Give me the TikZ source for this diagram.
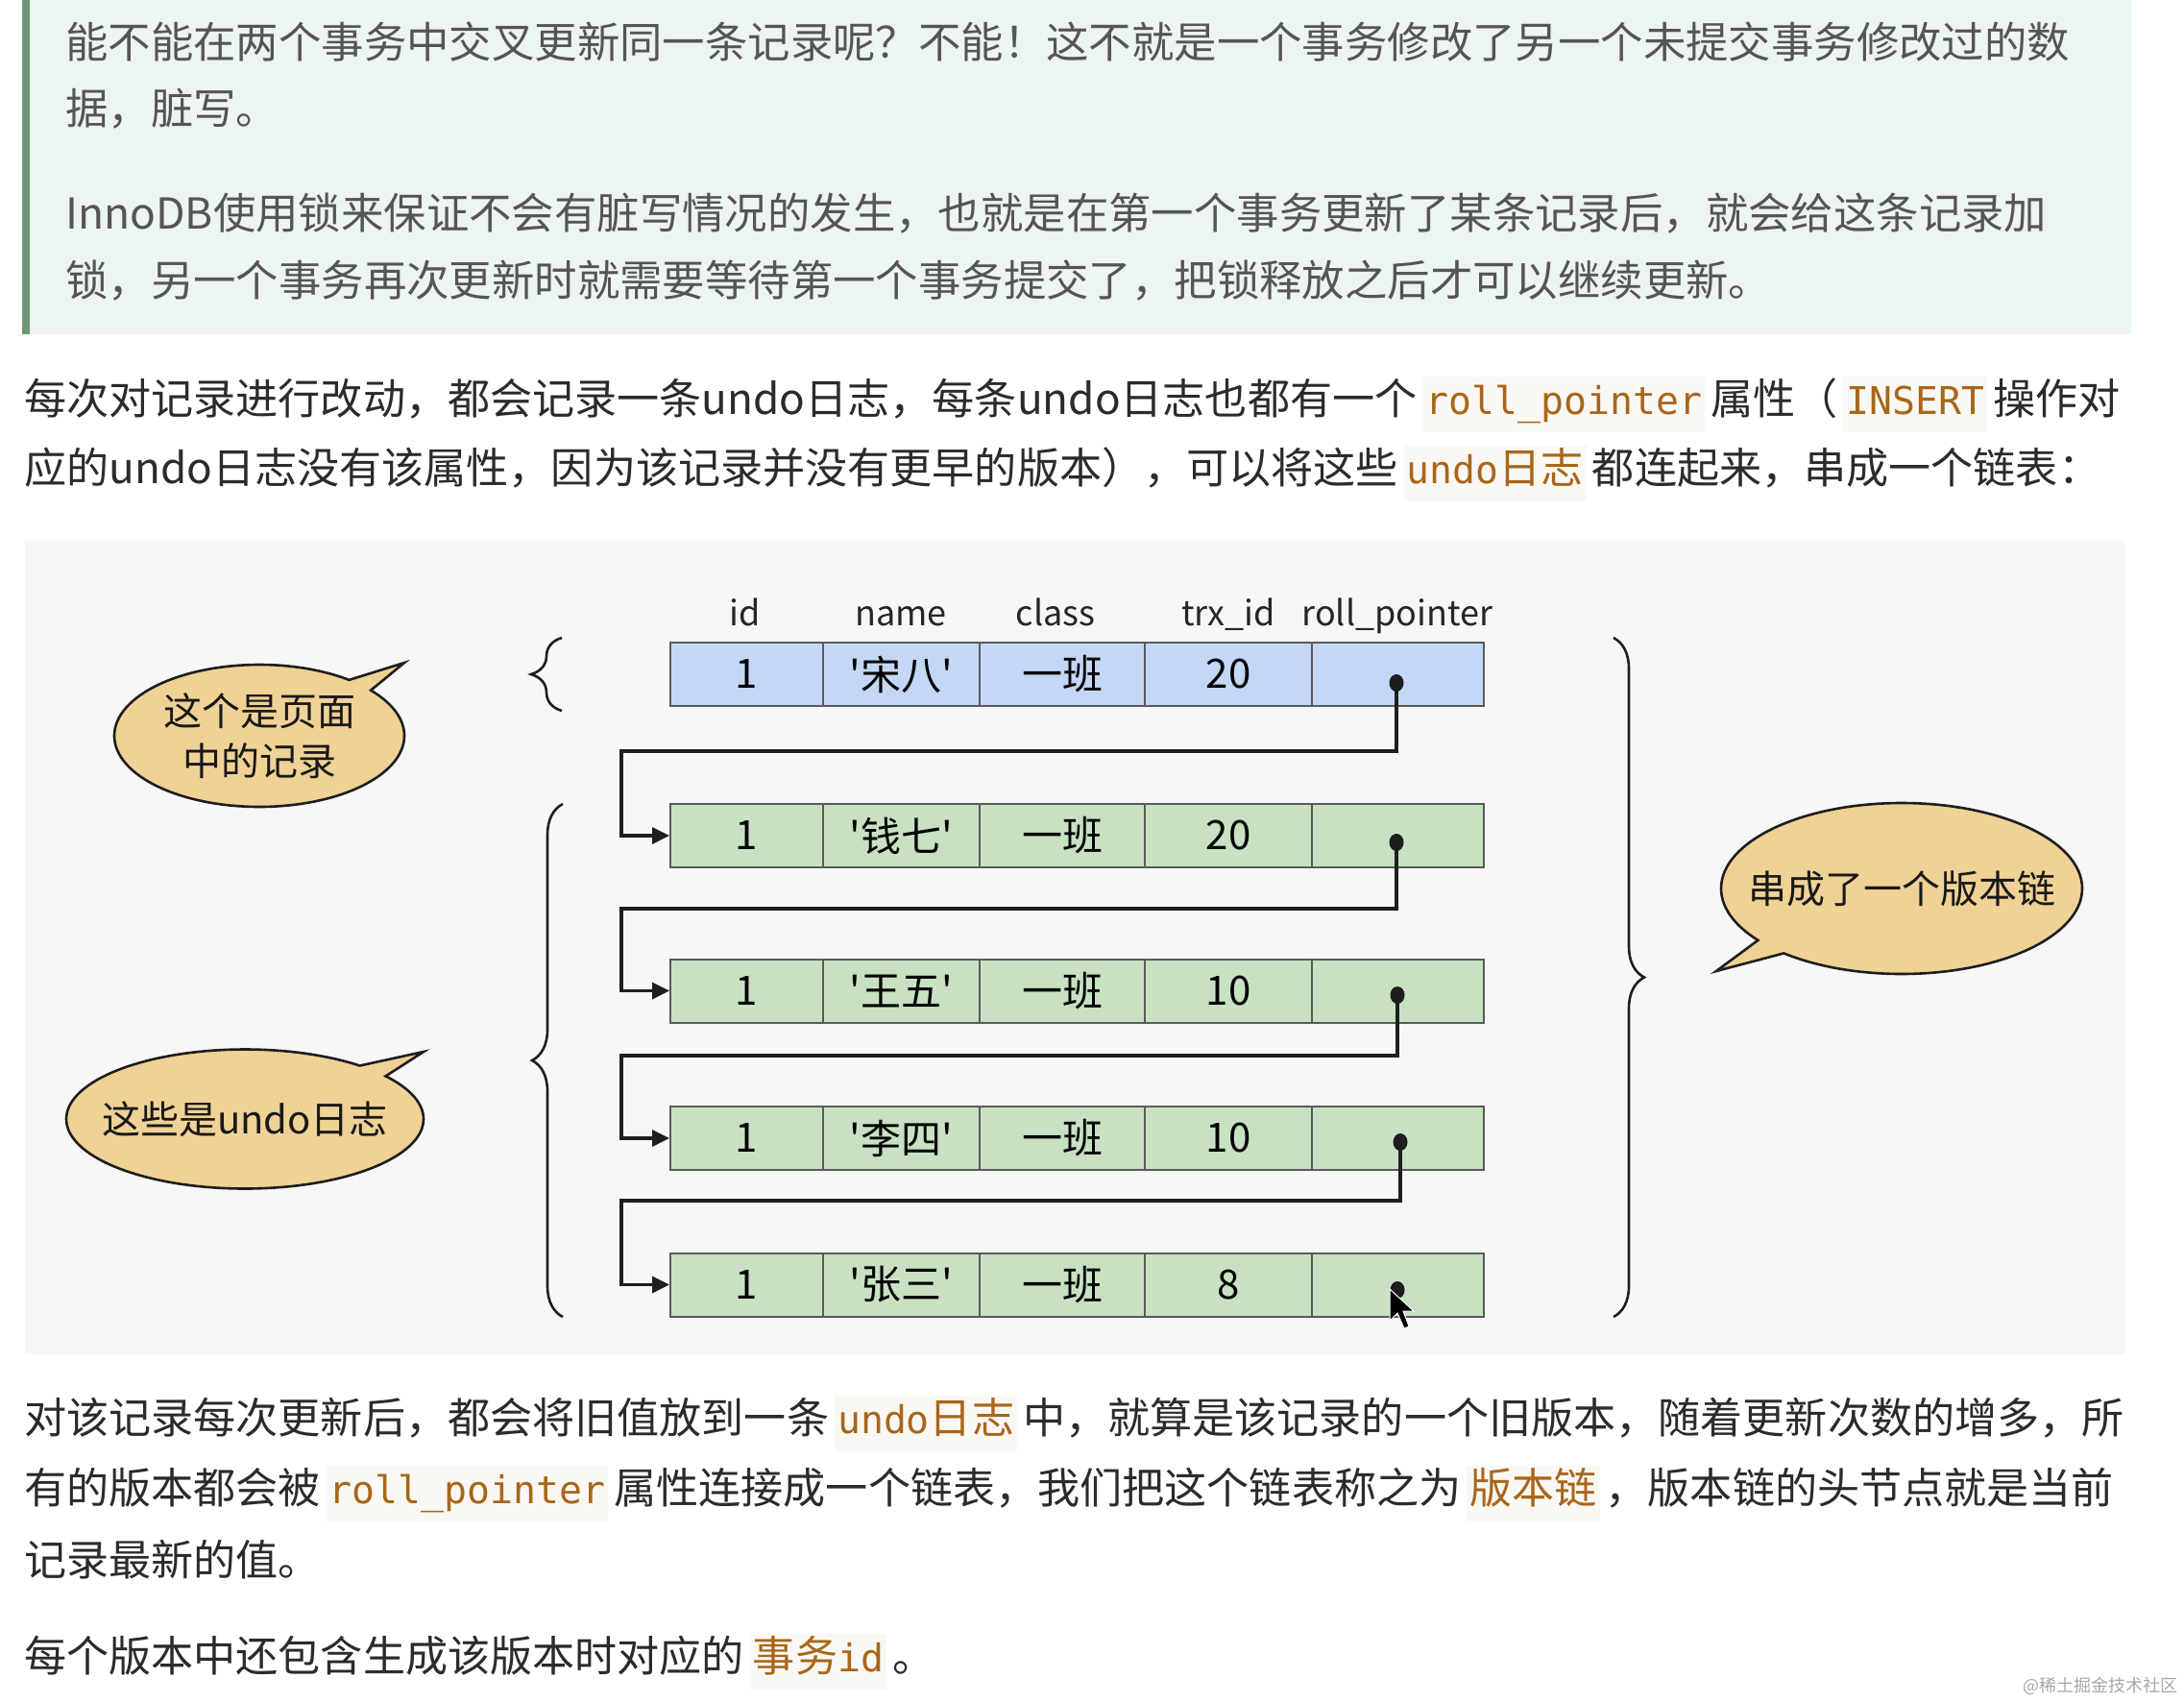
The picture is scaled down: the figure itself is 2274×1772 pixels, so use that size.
\documentclass[tikz,border=0pt]{standalone}
\usepackage{fontspec}
\setmainfont{Noto Sans CJK SC}
\newfontfamily\codefont{DejaVu Sans Mono}
\usetikzlibrary{shapes.callouts,shapes.geometric,decorations.pathreplacing,arrows.meta}
\definecolor{quotebg}{HTML}{ECF5EF}
\definecolor{quotebar}{HTML}{6E9678}
\definecolor{quotetext}{HTML}{555555}
\definecolor{bodytext}{HTML}{2B2B2B}
\definecolor{codecol}{HTML}{A8661A}
\definecolor{codebg}{HTML}{FAF8F4}
\definecolor{diagbg}{HTML}{F7F7F7}
\definecolor{rowblue}{HTML}{C4D7F5}
\definecolor{rowgreen}{HTML}{C8E1C3}
\definecolor{cellline}{HTML}{5A5A5A}
\definecolor{bubblefill}{HTML}{F0D296}
\definecolor{inkdark}{HTML}{1E1E1E}
\definecolor{wmark}{HTML}{A8A8A8}
\newcommand\cc[1]{{\fontsize{39.8}{52}\selectfont\codefont #1}}
\newcommand\cbox[1]{\hspace{6pt}{\setlength{\fboxsep}{3pt}\colorbox{codebg}{\color{codecol}\strut#1}}\hspace{6pt}}
\begin{document}
\begin{tikzpicture}[x=1pt,y=-1pt,
  txt/.style={anchor=west,inner sep=0pt},
  quotetxt/.style={txt,text=quotetext,font=\fontsize{44.4}{52}\selectfont},
  bodytxt/.style={txt,text=bodytext,font=\fontsize{44.1}{52}\selectfont},
  cell/.style={draw=cellline,line width=2pt,inner sep=0pt,text=black,font=\fontsize{42}{50}\selectfont},
  hdr/.style={anchor=base,inner sep=0pt,text=black!85,font=\fontsize{36}{44}\selectfont},
  link/.style={draw=inkdark,line width=3.5pt,-{Triangle[length=18pt,width=17pt]}},
  brc/.style={draw=inkdark,line width=2.6pt,decorate,decoration={brace,amplitude=32pt}},
  bubble/.style={ellipse callout,draw=inkdark,line width=2.6pt,fill=bubblefill,align=center,inner sep=0pt,callout pointer arc=12,font=\fontsize{40}{52}\selectfont,text=black!90}]
\useasboundingbox (0,0) rectangle (2274,1772);
\fill[white] (0,0) rectangle (2274,1772);

% quote block
\fill[quotebg] (26,0) rectangle (2219,348);
\fill[quotebar] (23,0) rectangle (31,348);
\node[quotetxt] (q1) at (68,44) {能不能在两个事务中交叉更新同一条记录呢？不能！这不就是一个事务修改了另一个未提交事务修改过的数};
\node[quotetxt] (q2) at (68,113) {据，脏写。};
\node[quotetxt] (q3) at (68,222) {InnoDB使用锁来保证不会有脏写情况的发生，也就是在第一个事务更新了某条记录后，就会给这条记录加};
\node[quotetxt] (q4) at (68,292) {锁，另一个事务再次更新时就需要等待第一个事务提交了，把锁释放之后才可以继续更新。};

% paragraph
\node[bodytxt] (p1) at (25,421) {每次对记录进行改动，都会记录一条undo日志，每条undo日志也都有一个\cbox{\cc{roll\_pointer}}属性（\cbox{\cc{INSERT}}操作对};
\node[bodytxt] (p2) at (25,493) {应的undo日志没有该属性，因为该记录并没有更早的版本），可以将这些\cbox{\cc{undo}日志}都连起来，串成一个链表：};

% diagram background
\fill[diagbg] (26,563) rectangle (2212,1410);

% headers
\node[hdr] (h1) at (776,651) {id};
\node[hdr] (h2) at (938,651) {name};
\node[hdr] (h3) at (1099,651) {class};
\node[hdr] (h4) at (1279,651) {trx\_id};
\node[hdr] (h5) at (1455,651) {roll\_pointer};

% rows
\foreach \i/\yc/\fc/\nm/\tx in {1/702/rowblue/宋八/20, 2/870/rowgreen/钱七/20, 3/1031.5/rowgreen/王五/10, 4/1185/rowgreen/李四/10, 5/1337.5/rowgreen/张三/8}{
  \node[cell,fill=\fc,minimum width=159pt,minimum height=66pt] (r\i-1) at (777.5,\yc) {1};
  \node[cell,fill=\fc,minimum width=163pt,minimum height=66pt] (r\i-2) at (938.5,\yc) {\textquotesingle\nm\textquotesingle};
  \node[cell,fill=\fc,minimum width=172pt,minimum height=66pt] (r\i-3) at (1106,\yc) {一班};
  \node[cell,fill=\fc,minimum width=174pt,minimum height=66pt] (r\i-4) at (1279,\yc) {\tx};
  \node[cell,fill=\fc,minimum width=179pt,minimum height=66pt] (r\i-5) at (1455.5,\yc) {};
}

% pointer dots and bends
\coordinate (d1) at (1454,711);
\coordinate (d2) at (1454,877);
\coordinate (d3) at (1455,1036);
\coordinate (d4) at (1458,1189);
\coordinate (d5) at (1455,1343);
\coordinate (k1) at (647,782);
\coordinate (k2) at (647,946);
\coordinate (k3) at (647,1099);
\coordinate (k4) at (647,1250);
\draw[link] (d1) |- (k1) |- (r2-1.west);
\draw[link] (d2) |- (k2) |- (r3-1.west);
\draw[link] (d3) |- (k3) |- (r4-1.west);
\draw[link] (d4) |- (k4) |- (r5-1.west);
\foreach \i in {1,...,5}{\fill[inkdark] (d\i) ellipse[x radius=7.5pt,y radius=9pt];}

% mouse cursor
\fill[black,draw=white,line width=1pt] (1447,1342) -- (1447,1375) -- (1455,1367) -- (1462,1383) -- (1467,1381) -- (1461,1365) -- (1472,1365) -- cycle;

% braces
\coordinate (b1a) at (585,740);
\coordinate (b1b) at (585,664);
\coordinate (b2a) at (586,1371);
\coordinate (b2b) at (586,837);
\coordinate (b3a) at (1680,664);
\coordinate (b3b) at (1680,1371);
\draw[brc] (b1a) -- (b1b);
\draw[brc] (b2a) -- (b2b);
\draw[brc] (b3a) -- (b3b);

% bubbles
\node[bubble,minimum width=302pt,minimum height=148pt,callout absolute pointer={(421,690)}] (s1) at (270,766) {\makebox[0pt]{这个是页面}\\\makebox[0pt]{中的记录}};
\node[bubble,minimum width=372pt,minimum height=145pt,callout absolute pointer={(441,1095)}] (s2) at (255,1165) {\makebox[0pt]{这些是undo日志}};
\node[bubble,minimum width=376pt,minimum height=178pt,callout absolute pointer={(1787,1011)}] (s3) at (1980,925) {\makebox[0pt]{串成了一个版本链}};

% bottom text
\node[bodytxt] (t1) at (25,1482) {对该记录每次更新后，都会将旧值放到一条\cbox{\cc{undo}日志}中，就算是该记录的一个旧版本，随着更新次数的增多，所};
\node[bodytxt] (t2) at (25,1555) {有的版本都会被\cbox{\cc{roll\_pointer}}属性连接成一个链表，我们把这个链表称之为\cbox{版本链}，版本链的头节点就是当前};
\node[bodytxt] (t3) at (25,1624) {记录最新的值。};
\node[bodytxt] (t4) at (25,1730) {每个版本中还包含生成该版本时对应的\cbox{事务\cc{id}}。};

% watermark
\node[anchor=east,inner sep=0pt,text=wmark,font=\fontsize{18}{22}\selectfont] (wm) at (2268,1755) {@稀土掘金技术社区};
\end{tikzpicture}
\end{document}
